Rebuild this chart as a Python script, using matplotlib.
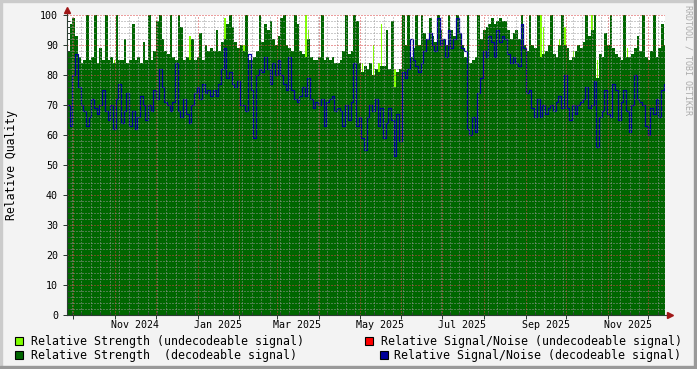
import datetime as dt
import matplotlib
matplotlib.use("Agg")
import matplotlib.pyplot as plt
import matplotlib.dates as mdates
import matplotlib.transforms as mtransforms
from matplotlib.patches import Rectangle
from matplotlib.ticker import MultipleLocator, NullFormatter

plt.rcParams['font.family'] = ['DejaVu Sans Mono']

# time span and sampling (one value every 2 days)
start = dt.datetime(2024, 9, 26, 8)
end = dt.datetime(2025, 12, 13, 7)
step_days = 2

# relative strength, decodeable signal
strength = [
    88, 97, 99, 93, 86, 84, 85, 100, 85, 86, 100, 84, 89, 85, 100, 85, 86, 84, 100, 85,
    85, 92, 84, 85, 97, 85, 86, 84, 91, 85, 100, 85, 88, 98, 100, 92, 88,
    87, 100, 86, 85, 100, 96, 85, 86, 85, 92, 85, 86, 94, 85, 90, 88, 89, 88, 95, 88,
    91, 92, 97, 100, 96, 91, 89, 90, 88, 100, 85, 85, 86, 88, 100, 91, 97,
    95, 98, 92, 90, 93, 99, 100, 90, 89, 88, 100, 97, 88, 87, 86, 92, 86, 85, 85, 86,
    100, 85, 86, 85, 86, 84, 84, 85, 88, 100, 87, 88, 100, 98, 84, 81, 83,
    82, 84, 80, 82, 81, 83, 83, 95, 82, 98, 76, 81, 82, 100, 90, 100, 86, 89, 100, 90,
    100, 94, 92, 99, 93, 91, 100, 95, 92, 90, 100, 95, 93, 100, 94, 90, 86,
    100, 84, 85, 86, 100, 92, 95, 96, 97, 99, 97, 98, 99, 98, 98, 95, 92, 94, 95, 92,
    100, 90, 88, 100, 90, 89, 100, 86, 87, 88, 90, 100, 87, 86, 90, 100, 90,
    89, 85, 86, 88, 90, 89, 91, 100, 93, 95, 100, 79, 87, 86, 94, 90, 100, 89, 87, 86,
    85, 100, 86, 86, 87, 89, 93, 88, 100, 86, 85, 88, 100, 86, 89, 97, 90,
]

# relative signal/noise, decodeable signal
snr = [
    70, 63, 80, 87, 76, 70, 68, 63, 66, 72, 69, 67, 70, 75, 68, 65, 70, 62, 72, 77,
    64, 68, 74, 63, 68, 62, 66, 73, 70, 65, 70, 68, 75, 72, 82, 76, 71,
    70, 68, 71, 84, 68, 66, 72, 67, 64, 70, 74, 76, 72, 77, 74, 75, 73, 75, 73, 77,
    82, 89, 79, 81, 77, 76, 78, 70, 70, 68, 87, 75, 59, 80, 82, 81, 86,
    82, 77, 84, 80, 85, 80, 77, 75, 86, 75, 72, 71, 73, 76, 73, 79, 72, 69, 71, 70,
    72, 63, 71, 72, 73, 68, 69, 68, 63, 70, 65, 71, 84, 63, 66, 59, 55,
    66, 70, 68, 72, 63, 69, 59, 64, 69, 65, 53, 67, 58, 81, 79, 82, 92, 85, 83, 81,
    84, 88, 92, 94, 90, 88, 99, 90, 92, 86, 95, 89, 92, 99, 94, 89, 88,
    62, 60, 66, 61, 74, 79, 88, 86, 93, 91, 86, 95, 91, 93, 92, 87, 84, 86, 84, 83,
    97, 89, 74, 75, 69, 66, 72, 66, 70, 67, 69, 70, 68, 71, 73, 69, 80,
    69, 65, 70, 67, 70, 71, 72, 76, 69, 70, 78, 56, 66, 68, 75, 67, 66, 77, 75, 65,
    71, 75, 68, 61, 70, 80, 72, 71, 70, 63, 60, 69, 67, 72, 66, 75, 77,
]

# relative strength, undecodeable signal (only where it shows above the dark area)
weak_idx = [17, 45, 58, 65, 88, 89, 109, 113, 115, 116, 121, 175, 176, 182, 184, 187, 194, 196, 207]
weak_top = [85, 93, 99, 90, 100, 95, 84, 90, 84, 97, 82, 100, 96, 92, 96, 88, 100, 85, 89]

month_labels = ["Nov 2024", "Jan 2025", "Mar 2025", "May 2025", "Jul 2025", "Sep 2025", "Nov 2025"]
label_dates = [dt.datetime(2024, 11, 16), dt.datetime(2025, 1, 16), dt.datetime(2025, 3, 16),
               dt.datetime(2025, 5, 16), dt.datetime(2025, 7, 16), dt.datetime(2025, 9, 16),
               dt.datetime(2025, 11, 16)]

legend_labels = ["Relative Strength (undecodeable signal)",
                 "Relative Strength  (decodeable signal)",
                 "Relative Signal/Noise (undecodeable signal)",
                 "Relative Signal/Noise (decodeable signal)"]

c_weak = "#80FF00"
c_strong = "#006600"
c_snr_bad = "#FF0000"
c_snr = "#000099"
c_axis = "#2C3D33"
c_arrow = "#A01818"

W, H = 697, 369
fig = plt.figure(figsize=(W / 100, H / 100), dpi=100, facecolor="#F3F3F3")
ax = fig.add_axes([67 / W, 54 / H, 598 / W, 300 / H])
ax.set_facecolor("white")

edges = mdates.date2num([start + dt.timedelta(days=step_days * k) for k in range(len(strength) + 1)])
weak_x = mdates.date2num([start + dt.timedelta(days=step_days * i + 0.5) for i in weak_idx])

ax.bar(weak_x, weak_top, width=1.0, align="edge", color=c_weak, linewidth=0, zorder=1)
ax.stairs(strength, edges, fill=True, baseline=0, color=c_strong, zorder=1.5)
ax.stairs(snr, edges, baseline=None, color=c_snr, linewidth=0.9, zorder=2)

ax.set_xlim(mdates.date2num(start), mdates.date2num(end))
ax.set_ylim(0, 100)

ax.xaxis.set_major_locator(mdates.MonthLocator())
ax.xaxis.set_minor_locator(mdates.WeekdayLocator(byweekday=mdates.MO))
ax.xaxis.set_major_formatter(NullFormatter())
ax.xaxis.set_minor_formatter(NullFormatter())
ax.yaxis.set_major_locator(MultipleLocator(10))
ax.yaxis.set_minor_locator(MultipleLocator(2))

# faint dotted grid on top of the data
ax.set_axisbelow(False)
ax.grid(which="minor", color=(0.6, 0.6, 0.6, 0.3), linestyle=(0, (1, 2)), linewidth=0.72)
ax.grid(which="major", color=(0.85, 0.25, 0.25, 0.35), linestyle=(0, (1, 2)), linewidth=0.72)

ax.tick_params(which="major", length=3, width=0.72, color=c_axis, direction="out",
               labelsize=7.2, pad=3.5)
ax.tick_params(which="minor", length=2, width=0.72, color=c_axis, direction="in")
for s in ax.spines.values():
    s.set_visible(False)

# axis lines with arrows
ax.plot([0, 0], [0, 1.015], transform=ax.transAxes, color=c_axis, lw=0.8, clip_on=False, zorder=5)
ax.plot([0, 1.008], [0, 0], transform=ax.transAxes, color=c_axis, lw=0.8, clip_on=False, zorder=5)
ax.plot([0], [1.016], marker="^", ms=4, color=c_arrow, transform=ax.transAxes, clip_on=False, zorder=6)
ax.plot([1.009], [0], marker=">", ms=4, color=c_arrow, transform=ax.transAxes, clip_on=False, zorder=6)

# month labels centred mid-month
trans = mtransforms.blended_transform_factory(ax.transData, fig.transFigure)
for d, lab in zip(label_dates, month_labels):
    ax.text(mdates.date2num(d), 1 - 327.7 / H, lab, transform=trans, ha="center",
            va="baseline", fontsize=7.2)

fig.text(12 / W, 1 - 165 / H, "Relative Quality", rotation=90, ha="center", va="center", fontsize=8.3)
fig.text(688 / W, 1 - 60 / H, "RRDTOOL / TOBI OETIKER", rotation=270, ha="center", va="center",
         fontsize=6, color="#ABABAB")

# legend
legend_colors = [c_weak, c_strong, c_snr_bad, c_snr]
box_x = [15, 15, 365, 380]
text_x = [30.7, 30.7, 380.7, 394.3]
base_y = [345, 359, 345, 359]
for col, bx, tx, by, lab in zip(legend_colors, box_x, text_x, base_y, legend_labels):
    fig.add_artist(Rectangle((bx / W, 1 - by / H), 8 / W, 8 / H, facecolor=col, edgecolor="black",
                             linewidth=0.8, transform=fig.transFigure))
    fig.text(tx / W, 1 - by / H, lab, ha="left", va="baseline", fontsize=8.4)

# 3d-ish frame
fig.add_artist(Rectangle((0, 1 - 2 / H), 1, 2 / H, color="#CBCBCB", transform=fig.transFigure))
fig.add_artist(Rectangle((0, 0), 2 / W, 1, color="#CBCBCB", transform=fig.transFigure))
fig.add_artist(Rectangle((0, 0), 1, 3 / H, color="#999999", transform=fig.transFigure))
fig.add_artist(Rectangle((1 - 3 / W, 0), 3 / W, 1, color="#999999", transform=fig.transFigure))

fig.savefig("out.png", dpi=100, facecolor=fig.get_facecolor())
